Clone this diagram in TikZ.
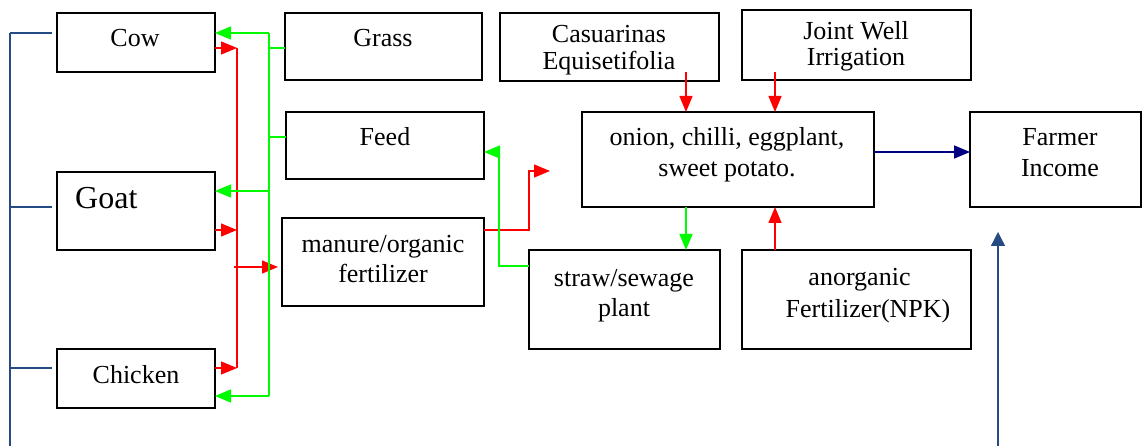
\documentclass[tikz,border=0pt]{standalone}
\usepackage{fontspec}
\setmainfont{Liberation Serif}
\usetikzlibrary{arrows.meta}
\definecolor{myred}{RGB}{255,0,0}
\definecolor{mygreen}{RGB}{0,250,0}
\definecolor{mynavy}{RGB}{0,0,128}
\definecolor{mysteel}{RGB}{36,76,130}
\begin{document}
\begin{tikzpicture}[x=1pt,y=-1pt,
  box/.style={draw=black, line width=2pt, inner sep=0pt, outer sep=0pt, rectangle},
  txt/.style={inner sep=0pt, outer sep=0pt, anchor=base, font=\fontsize{26}{31}\selectfont},
  tip/.style={-{Triangle[length=16pt,width=13pt]}},
  redln/.style={draw=myred, line width=1.4pt},
  grnln/.style={draw=mygreen, line width=1.4pt},
  navyln/.style={draw=mynavy, line width=1.6pt},
  blueln/.style={draw=mysteel, line width=1.4pt}]
\useasboundingbox (0,0) rectangle (1142,446);

% boxes
\node[box, minimum width=158pt, minimum height=59pt] (cow) at (136,42.5) {};
\node[box, minimum width=158pt, minimum height=78pt] (goat) at (136,211) {};
\node[box, minimum width=158pt, minimum height=59pt] (chicken) at (136,378.5) {};
\node[box, minimum width=197pt, minimum height=67pt] (grass) at (383.5,46.5) {};
\node[box, minimum width=198pt, minimum height=67pt] (feed) at (385,145.5) {};
\node[box, minimum width=202pt, minimum height=88pt] (manure) at (383,262) {};
\node[box, minimum width=219pt, minimum height=68pt] (casu) at (609.5,47) {};
\node[box, minimum width=229pt, minimum height=70pt] (joint) at (856.5,45) {};
\node[box, minimum width=292pt, minimum height=95pt] (crop) at (728,159.5) {};
\node[box, minimum width=171pt, minimum height=95pt] (farmer) at (1055.5,159.5) {};
\node[box, minimum width=191pt, minimum height=99pt] (straw) at (624.5,299.5) {};
\node[box, minimum width=229pt, minimum height=99pt] (anorg) at (856.5,299.5) {};

% texts
\node[txt] (cowT) at (135,47) {Cow};
\node[inner sep=0pt, anchor=base west, font=\fontsize{32}{38}\selectfont] (goatT) at (75,209) {Goat};
\node[txt] (chickenT) at (136,383) {Chicken};
\node[txt] (grassT) at (383,47) {Grass};
\node[txt] (feedT) at (385,146) {Feed};
\node[txt] (manureT1) at (383,252) {manure/organic};
\node[txt] (manureT2) at (383,282) {fertilizer};
\node[txt] (casuT1) at (609,43) {Casuarinas};
\node[txt] (casuT2) at (609,70) {Equisetifolia};
\node[txt] (jointT1) at (856,40) {Joint Well};
\node[txt] (jointT2) at (856,66) {Irrigation};
\node[txt] (cropT1) at (727,146) {onion, chilli, eggplant,};
\node[txt] (cropT2) at (727,177) {sweet potato.};
\node[txt] (farmerT1) at (1060,146) {Farmer};
\node[txt] (farmerT2) at (1060,177) {Income};
\node[txt] (strawT1) at (624,286) {straw/sewage};
\node[txt] (strawT2) at (624,316) {plant};
\node[txt] (anorgT1) at (859.5,285) {anorganic};
\node[txt] (anorgT2) at (868,317) {Fertilizer(NPK)};

% red bus (animals -> manure)
\coordinate (rb1) at (237,48);
\coordinate (rb2) at (237,230);
\coordinate (rb3) at (237,368);
\coordinate (rb4) at (234,267);
\coordinate (rb5) at (278,267);
\draw[redln] (rb1) -- (rb3);
\draw[redln,tip] (cow.east |- rb1) -- (rb1);
\draw[redln,tip] (goat.east |- rb2) -- (rb2);
\draw[redln,tip] (chicken.east |- rb3) -- (rb3);
\draw[redln,tip] (rb4) -- (rb5);

% green bus (grass, feed -> animals)
\coordinate (gb1) at (269,33);
\coordinate (gb2) at (269,48);
\coordinate (gb3) at (269,137);
\coordinate (gb4) at (269,191);
\coordinate (gb5) at (269,396);
\draw[grnln] (gb1) -- (gb5);
\draw[grnln,tip] (gb1) -- (gb1 -| cow.east);
\draw[grnln] (gb2) -- (gb2 -| grass.west);
\draw[grnln] (gb3) -- (gb3 -| feed.west);
\draw[grnln,tip] (gb4) -- (gb4 -| goat.east);
\draw[grnln,tip] (gb5) -- (gb5 -| chicken.east);

% manure -> crop
\coordinate (mr1) at (529,230);
\coordinate (mr2) at (529,171);
\coordinate (mr3) at (550,171);
\draw[redln,tip] (manure.east |- mr1) -- (mr1) -- (mr2) -- (mr3);

% straw -> feed
\coordinate (sg1) at (499,266);
\coordinate (sg2) at (499,152);
\draw[grnln,tip] (straw.west |- sg1) -- (sg1) -- (sg2) -- (sg2 -| feed.east);

% inputs to crop
\coordinate (ca) at (686,72);
\coordinate (jw) at (775,72);
\draw[redln,tip] (ca) -- (ca |- crop.north);
\draw[redln,tip] (jw) -- (jw |- crop.north);
\draw[grnln,tip] (ca |- crop.south) -- (ca |- straw.north);
\draw[redln,tip] (jw |- anorg.north) -- (jw |- crop.south);

% crop -> farmer income
\coordinate (nv) at (874,152);
\draw[navyln,tip] (nv) -- (nv -| farmer.west);

% blue lines
\coordinate (bl0) at (10,446);
\coordinate (bl1) at (10,33);
\coordinate (bl2) at (10,207);
\coordinate (bl3) at (10,368);
\draw[blueln] (bl1) -- (bl0);
\draw[blueln] (bl1) -- (52,33);
\draw[blueln] (bl2) -- (52,207);
\draw[blueln] (bl3) -- (52,368);
\coordinate (br0) at (998,446);
\coordinate (br1) at (998,232);
\draw[blueln,-{Triangle[length=14pt,width=14pt]}] (br0) -- (br1);
\end{tikzpicture}
\end{document}
